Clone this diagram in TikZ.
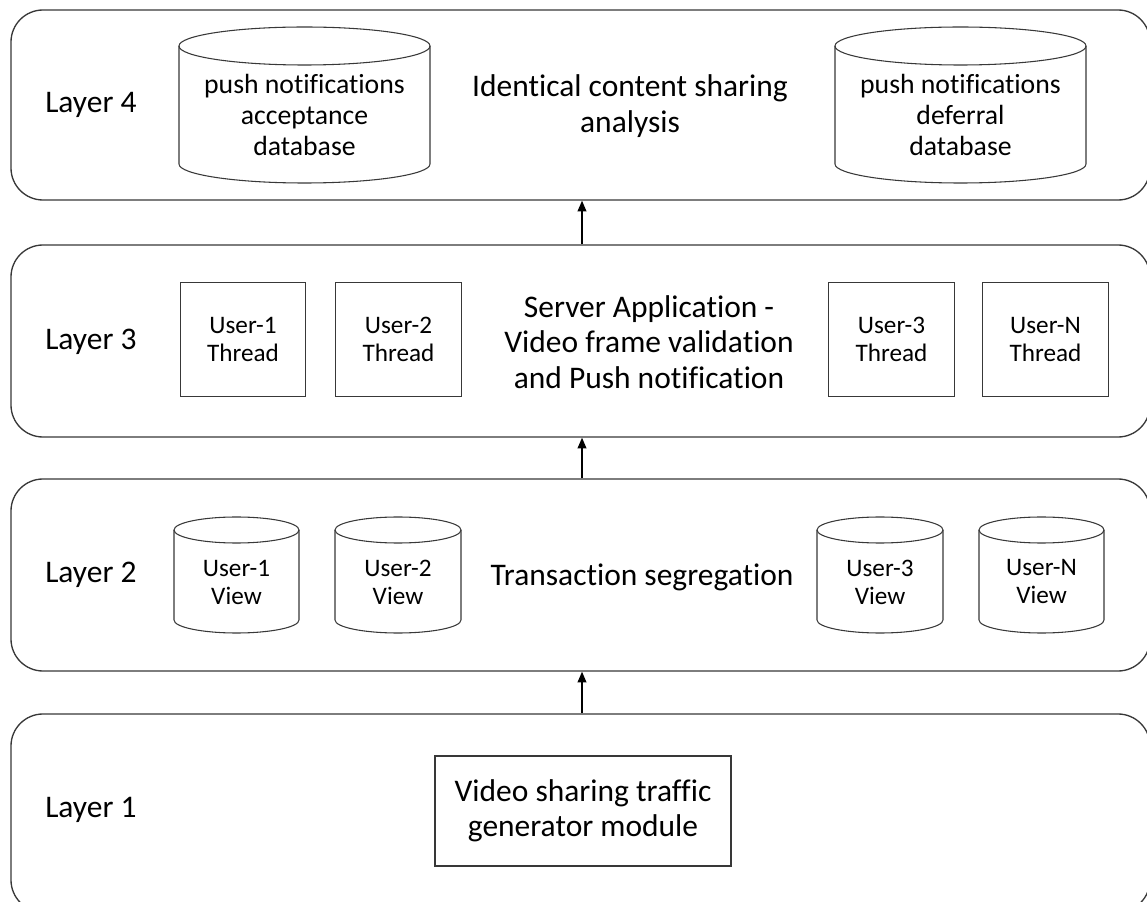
\documentclass[tikz,border=0pt]{standalone}
\usepackage{fontspec}
\setmainfont[Ligatures=NoCommon]{Carlito}
\usetikzlibrary{arrows.meta}

% drum-shaped database outline: name, left x, right x, top y, bottom y, cap radius
\newcommand\drum[6]{%
  \pgfmathsetmacro\drumcx{(#2+#3)/2}%
  \pgfmathsetmacro\drumrx{(#3-#2)/2}%
  \draw[drumline] (#2,#4-#6) -- (#2,#5+#6)
    arc[start angle=180,end angle=360,x radius=\drumrx,y radius=#6] -- (#3,#4-#6);
  \draw[drumline] (\drumcx,#4-#6) ellipse[x radius=\drumrx,y radius=#6];
  \coordinate (#1) at (\drumcx,{(#4+#5)/2});
}

\begin{document}
\begin{tikzpicture}[x=0.75pt,y=0.75pt,
  edge/.style={draw=black!78,line width=1pt},
  layerbox/.style={edge,rounded corners=24pt,minimum width=854.25pt,inner sep=0pt},
  drumline/.style={draw=black!78,line width=0.8pt},
  userbox/.style={draw=black!78,line width=0.8pt,minimum width=94pt,minimum height=86pt,inner sep=0pt,
    align=center,font=\fontsize{18.9}{21}\selectfont},
  usertext/.style={align=center,inner sep=0pt,font=\fontsize{18.9}{21}\selectfont},
  dbtext/.style={align=center,inner sep=0pt,font=\fontsize{20.8}{23.5}\selectfont},
  bigtext/.style={align=center,inner sep=0pt,font=\fontsize{23.6}{26.5}\selectfont},
  layerlabel/.style={anchor=west,inner sep=0pt,font=\fontsize{23.6}{26.5}\selectfont},
  flow/.style={draw=black,line width=1.1pt,-{Triangle[length=8pt,width=6.5pt]}}]

\useasboundingbox (0,0) rectangle (1147,901);
\clip (0,0) rectangle (1147,901);

% the four layers
\node[layerbox,minimum height=142.5pt] (L4) at (580.5,796) {};
\node[layerbox,minimum height=144pt]   (L3) at (580.5,560) {};
\node[layerbox,minimum height=144pt]   (L2) at (580.5,326) {};
\node[layerbox,minimum height=148.5pt] (L1) at (580.5,88) {};

\node[layerlabel] (t4) at (45,796) {Layer 4};
\node[layerlabel] (t3) at (45,559) {Layer 3};
\node[layerlabel] (t2) at (45,326) {Layer 2};
\node[layerlabel] (t1) at (45,91)  {Layer 1};

% layer 4: databases and analysis
\drum{accdb}{179}{430}{874}{718}{19}
\drum{defdb}{835}{1086}{874}{718}{19}
\node[dbtext] (acc) at (304.5,786) {push notifications\\acceptance\\database};
\node[dbtext] (def) at (960.5,786) {push notifications\\deferral\\database};
\node[bigtext] (ana) at (630,795) {Identical content sharing\\analysis};

% layer 3: user threads and server application
\node[userbox] (th1) at (243,561.5)  {User-1\\Thread};
\node[userbox] (th2) at (398.5,561.5) {User-2\\Thread};
\node[userbox] (th3) at (891.5,561.5) {User-3\\Thread};
\node[userbox] (thn) at (1045.5,561.5) {User-N\\Thread};
\node[bigtext] (srv) at (649,559) {Server Application -\\Video frame validation\\and Push notification};

% layer 2: per-user views and segregation
\drum{v1}{174}{299}{384}{268}{13}
\drum{v2}{335}{461}{384}{268}{13}
\drum{v3}{817}{943}{384}{268}{13}
\drum{vn}{979}{1104}{384}{268}{13}
\node[usertext] (u1) at (236.5,319) {User-1\\View};
\node[usertext] (u2) at (398,319)   {User-2\\View};
\node[usertext] (u3) at (880,319)   {User-3\\View};
\node[usertext] (un) at (1041.5,319) {User-N\\View};
\node[bigtext] (seg) at (642,324) {Transaction segregation};

% layer 1: traffic generator
\node[draw=black!78,line width=0.8pt,minimum width=222pt,minimum height=82.5pt,inner sep=0pt,
  align=center,font=\fontsize{23.6}{26.5}\selectfont] (gen) at (583,90) {Video sharing traffic\\generator module};

% flow between layers
\coordinate (ax) at (582,0);
\draw[flow] (L1.north -| ax) -- (L2.south -| ax);
\draw[flow] (L2.north -| ax) -- (L3.south -| ax);
\draw[flow] (L3.north -| ax) -- (L4.south -| ax);
\end{tikzpicture}
\end{document}
